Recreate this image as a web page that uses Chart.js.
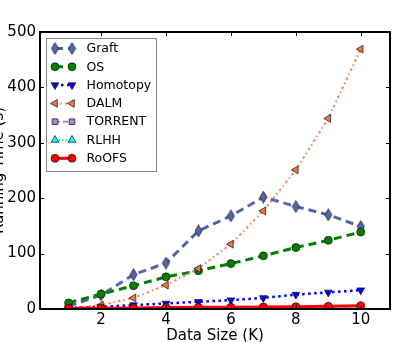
<!DOCTYPE html>
<html>
<head>
<meta charset="utf-8">
<script src="https://cdn.jsdelivr.net/npm/chart.js@4.4.0/dist/chart.umd.min.js"></script>
<style>
	html, body { margin: 0; padding: 0; background: #fff; overflow: hidden; }
	canvas { display: block; }
</style>
</head>
<body>
<canvas id="mycanvas" width="419" height="342"></canvas>
<script>
// data sizes (K) and running times (s)
var sizes = [1, 2, 3, 4, 5, 6, 7, 8, 9, 10];
var graft = [5, 25, 62, 83, 141, 168, 202, 185, 170, 149];
var os = [11, 27, 42, 58, 69, 82, 96, 111, 124, 139];
var homotopy = [2, 4, 7, 10, 13, 16, 20, 26, 30, 34];
var dalm = [2, 7, 20, 43, 73, 117, 177, 251, 344, 469];
var torrent = [1, 1.5, 2, 2, 2.5, 3, 3, 3.5, 4, 4.5];
var rlhh = [0.5, 1, 1, 1.5, 1.5, 2, 2, 2.5, 3, 3];
var roofs = [1, 1.5, 2, 2.5, 3, 3, 3.5, 4, 5, 6];

var xTicks = [2, 4, 6, 8, 10];
var yTicks = [0, 100, 200, 300, 400, 500];
var FONT = "'DejaVu Sans', sans-serif";

function pts(vals) {
	return vals.map(function(v, i) { return {x: sizes[i], y: v}; });
}

// matplotlib style thin diamond
function thinDiamond(fill) {
	var c = document.createElement('canvas');
	c.width = 9; c.height = 13;
	var g = c.getContext('2d');
	g.beginPath();
	g.moveTo(4.5, 0.6); g.lineTo(8, 6.5); g.lineTo(4.5, 12.4); g.lineTo(1, 6.5);
	g.closePath();
	g.fillStyle = fill; g.fill();
	g.lineWidth = 0.8; g.strokeStyle = '#222'; g.stroke();
	return c;
}

function series(label, vals, color, lineColor, style, rot, radius, dash, width, order) {
	return {
		label: label,
		data: pts(vals),
		borderColor: lineColor,
		backgroundColor: color,
		borderWidth: width,
		borderDash: dash,
		pointStyle: style,
		rotation: rot,
		pointRadius: radius,
		pointBackgroundColor: color,
		pointBorderColor: '#111',
		pointBorderWidth: 0.7,
		fill: false,
		tension: 0,
		order: order
	};
}

var datasets = [
	series('Graft', graft, '#5566aa', '#5566aa', thinDiamond('#5566aa'), 0, 5, [8, 5], 3, 7),
	series('OS', os, '#008000', '#008000', 'circle', 0, 4, [8, 5], 3, 6),
	series('Homotopy', homotopy, '#0000ff', '#0000ff', 'triangle', 180, 4.5, [2.5, 3.5], 2.5, 5),
	series('DALM', dalm, '#ee7744', '#f4845a', 'triangle', -90, 4.5, [2.5, 3, 1.5, 3], 2, 4),
	series('TORRENT', torrent, '#b07fd8', '#b07fd8', 'rect', 0, 4, [5, 3], 2, 3),
	series('RLHH', rlhh, '#00ffff', '#00ffff', 'triangle', 0, 4.5, [1.5, 2], 2, 2),
	series('RoOFS', roofs, '#ff0000', '#ff0000', 'circle', 0, 4, [], 3, 1)
];

var frameLegend = {
	id: 'frameLegend',
	afterDraw: function(chart) {
		var ctx = chart.ctx, a = chart.chartArea;
		var xs = chart.scales.x, ys = chart.scales.y;
		ctx.save();
		ctx.strokeStyle = '#000';
		ctx.lineWidth = 1;
		ctx.setLineDash([]);
		ctx.beginPath();
		xTicks.forEach(function(v) {
			var px = Math.round(xs.getPixelForValue(v)) + 0.5;
			ctx.moveTo(px, a.bottom); ctx.lineTo(px, a.bottom - 4);
			ctx.moveTo(px, a.top); ctx.lineTo(px, a.top + 4);
		});
		yTicks.forEach(function(v) {
			var py = Math.round(ys.getPixelForValue(v)) + 0.5;
			ctx.moveTo(a.left, py); ctx.lineTo(a.left + 4, py);
			ctx.moveTo(a.right, py); ctx.lineTo(a.right - 4, py);
		});
		ctx.stroke();
		ctx.lineWidth = 2;
		ctx.strokeRect(a.left, a.top, a.right - a.left, a.bottom - a.top);

		// legend
		ctx.fillStyle = '#fff';
		ctx.fillRect(46.5, 38.5, 110, 133);
		ctx.strokeStyle = '#888';
		ctx.lineWidth = 1;
		ctx.strokeRect(46.5, 38.5, 110, 133);
		ctx.font = '12.5px ' + FONT;
		ctx.textBaseline = 'middle';
		ctx.textAlign = 'left';
		datasets.forEach(function(d, i) {
			var y = 48.5 + i * 18.3;
			ctx.strokeStyle = d.borderColor;
			ctx.lineWidth = d.borderWidth;
			ctx.setLineDash(d.borderDash);
			ctx.beginPath(); ctx.moveTo(55, y); ctx.lineTo(72, y); ctx.stroke();
			ctx.setLineDash([]);
			ctx.fillStyle = d.pointBackgroundColor;
			ctx.strokeStyle = d.pointBorderColor;
			ctx.lineWidth = d.pointBorderWidth;
			[55, 72].forEach(function(x) {
				Chart.helpers.drawPoint(ctx, {
					pointStyle: d.pointStyle, rotation: d.rotation,
					radius: d.pointRadius, borderWidth: d.pointBorderWidth
				}, x, y);
			});
			ctx.fillStyle = '#000';
			ctx.fillText(d.label, 86.5, y + 0.5);
		});

		// axis titles
		ctx.fillStyle = '#000';
		ctx.font = '15px ' + FONT;
		ctx.textAlign = 'center';
		ctx.textBaseline = 'top';
		ctx.fillText('Data Size (K)', (a.left + a.right) / 2, 329);
		ctx.translate(2.5, (a.top + a.bottom) / 2);
		ctx.rotate(-Math.PI / 2);
		ctx.textBaseline = 'alphabetic';
		ctx.fillText('Running Time (s)', 0, 0);
		ctx.restore();
	}
};

var ctx = document.getElementById('mycanvas');
var chart = new Chart(ctx, {
	type: 'line',
	data: { datasets: datasets },
	options: {
		responsive: false,
		animation: false,
		devicePixelRatio: 1,
		layout: { padding: { left: 0, right: 29, top: 32, bottom: 0 } },
		plugins: { legend: { display: false }, tooltip: { enabled: false } },
		scales: {
			x: {
				type: 'linear',
				min: 0.12,
				max: 10.9,
				grid: { display: false, drawTicks: false },
				border: { display: false },
				afterBuildTicks: function(s) { s.ticks = xTicks.map(function(v) { return {value: v}; }); },
				afterFit: function(s) { s.height = 33; },
				ticks: { color: '#000', padding: 2, maxRotation: 0, font: { family: FONT, size: 15 } }
			},
			y: {
				min: 0,
				max: 500,
				grid: { display: false, drawTicks: false },
				border: { display: false },
				afterBuildTicks: function(s) { s.ticks = yTicks.map(function(v) { return {value: v}; }); },
				afterFit: function(s) { s.width = 40; },
				ticks: { color: '#000', padding: 4, font: { family: FONT, size: 15 } }
			}
		}
	},
	plugins: [frameLegend]
});
</script>
</body>
</html>
